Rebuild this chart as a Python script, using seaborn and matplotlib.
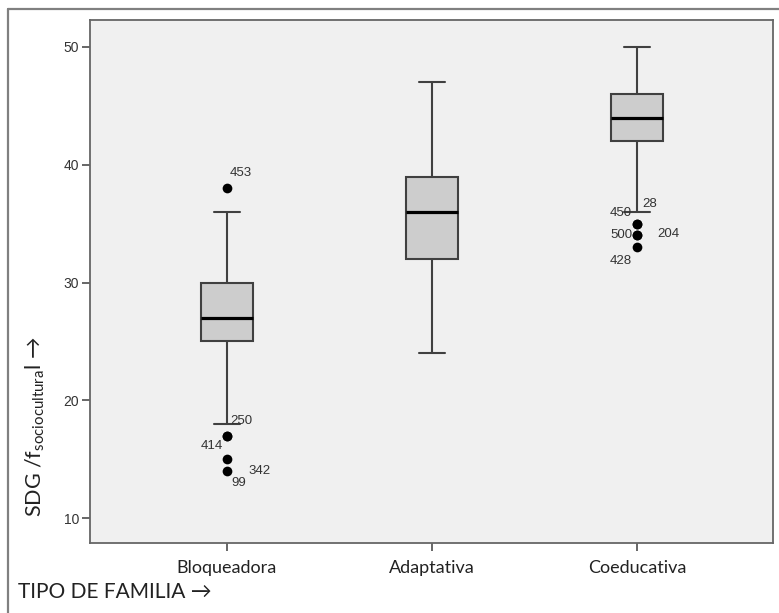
import matplotlib
matplotlib.use("Agg")
import matplotlib.pyplot as plt
import seaborn as sns
import pandas as pd
from matplotlib.lines import Line2D

# box summaries
groups = ["Bloqueadora", "Adaptativa", "Coeducativa"]
whisker_low = [18, 24, 36]
q1 = [25, 32, 42]
median = [27, 36, 44]
q3 = [30, 39, 46]
whisker_high = [36, 47, 50]

# outliers and their case numbers
outlier_group = ["Bloqueadora"] * 5 + ["Coeducativa"] * 5
outlier_value = [38, 17, 17, 15, 14, 35, 35, 34, 34, 33]
outlier_case = ["453", "250", "414", "342", "99", "450", "28", "500", "204", "428"]

y_ticks = [10, 20, 30, 40, 50]

# where each case label sits next to its point (pixels)
label_offsets = [(3, 15, "left"), (3, 15, "left"), (-4, -10, "right"),
                 (21, -12, "left"), (4, -12, "left"),
                 (-5, 11, "right"), (5, 20, "left"), (-5, 0, "right"),
                 (20, 1, "left"), (-5, -14, "right")]

sns.set_style("ticks")
plt.rcParams["font.family"] = ["Lato", "DejaVu Sans"]
plt.rcParams["mathtext.fontset"] = "custom"
plt.rcParams["mathtext.rm"] = "Lato"
plt.rcParams["mathtext.default"] = "rm"

# five-number table so the whiskers land on the read values
rows = []
for i, g in enumerate(groups):
    for v in [whisker_low[i], q1[i], median[i], q3[i], whisker_high[i]]:
        rows.append({"familia": g, "sdg": v})
box_df = pd.DataFrame(rows)
out_df = pd.DataFrame({"familia": outlier_group, "sdg": outlier_value})

fig = plt.figure(figsize=(7.79, 6.13), dpi=100)
ax = fig.add_axes([90 / 779, 1 - 543 / 613, 683 / 779, 523 / 613])
ax.set_facecolor("#f0f0f0")

sns.boxplot(data=box_df, x="familia", y="sdg", order=groups, whis=(0, 100),
            width=0.25, color="#cdcdcd", linecolor="#404040", linewidth=1.5,
            saturation=1, showfliers=False,
            medianprops={"color": "black", "linewidth": 2.3}, ax=ax)
sns.stripplot(data=out_df, x="familia", y="sdg", order=groups, jitter=False,
              color="black", size=7, linewidth=0, ax=ax)

for (g, v, c), (dx, dy, ha) in zip(zip(outlier_group, outlier_value, outlier_case), label_offsets):
    ax.annotate(c, (groups.index(g), v), xytext=(dx, dy), textcoords="offset pixels",
                ha=ha, va="center", fontsize=9.5, color="#333333",
                family="Liberation Sans")

ax.set_xlim(-0.668, 2.663)
ax.set_ylim(7.88, 52.29)
ax.set_yticks(y_ticks)
ax.set_xlabel("")
ax.set_ylabel("")
ax.tick_params(axis="both", direction="out", length=6, width=1.2, color="#4d4d4d")
ax.tick_params(axis="y", labelsize=10, labelcolor="#333333", pad=2)
ax.tick_params(axis="x", labelsize=13, labelcolor="#222222", pad=6)
for lab in ax.get_yticklabels():
    lab.set_family("Liberation Sans")
for s in ax.spines.values():
    s.set_visible(True)
    s.set_color("#666666")
    s.set_linewidth(1.3)

fig.text(35 / 779, 1 - 427 / 613, "SDG /f$_{sociocultura}$l \u2192", rotation=90,
         ha="center", va="center", fontsize=15.5, color="#222222")
fig.text(18 / 779, 1 - 592 / 613, "TIPO DE FAMILIA \u2192", ha="left", va="center",
         fontsize=15, color="#222222")

# outer frame
fig.add_artist(Line2D([8 / 779, 8 / 779], [0, 1 - 9 / 613], transform=fig.transFigure,
                      color="#808080", lw=1.6))
fig.add_artist(Line2D([8 / 779, 1], [1 - 9 / 613, 1 - 9 / 613], transform=fig.transFigure,
                      color="#808080", lw=1.6))

fig.savefig("out.png", dpi=100)
plt.close(fig)
